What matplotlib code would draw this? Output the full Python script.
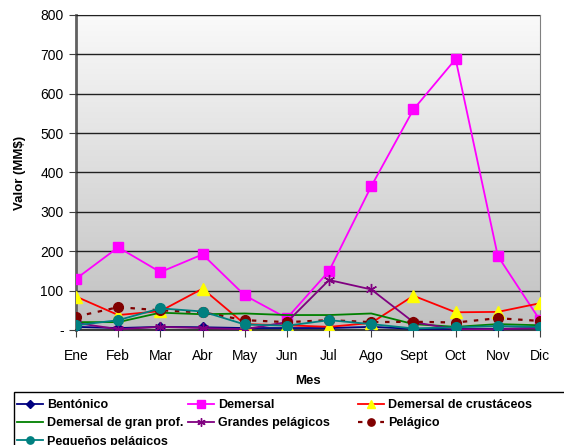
import matplotlib.pyplot as plt
import numpy as np
from matplotlib.colors import LinearSegmentedColormap
from matplotlib.patches import Rectangle

plt.rcParams['font.family'] = ['Liberation Sans', 'DejaVu Sans']

meses = ['Ene', 'Feb', 'Mar', 'Abr', 'May', 'Jun', 'Jul', 'Ago', 'Sept', 'Oct', 'Nov', 'Dic']

bentonico = [8, 5, 8, 7, 5, 5, 5, 8, 3, 3, 3, 5]
demersal = [130, 210, 147, 192, 88, 30, 150, 365, 560, 688, 188, 25]
crustaceos = [85, 38, 48, 105, 15, 12, 8, 18, 87, 45, 46, 68]
gran_prof = [20, 20, 44, 40, 42, 38, 38, 42, 15, 8, 15, 12]
grandes_pel = [18, 2, 8, 5, 2, 20, 127, 103, 20, 2, 2, 5]
pelagico = [34, 58, 50, 45, 25, 20, 25, 20, 21, 19, 30, 23]
pequenos_pel = [12, 25, 55, 47, 14, 11, 25, 15, 4, 7, 10, 8]

fig = plt.figure(figsize=(5.64, 4.45), dpi=100)
ax = fig.add_axes([0.1348, 0.2584, 0.8226, 0.708])

# fondo con degradado
cmap = LinearSegmentedColormap.from_list('fondo', ['#c0c0c0', '#fafafa'])
grad = np.linspace(0, 1, 256).reshape(-1, 1)
ax.imshow(grad, extent=[0, 1, 0, 1], transform=ax.transAxes, aspect='auto',
          cmap=cmap, origin='lower', zorder=0)

x = np.arange(len(meses))
l1, = ax.plot(x, bentonico, color='#000080', marker='D', markersize=5, lw=1.3, label='Bentónico', zorder=3)
l2, = ax.plot(x, demersal, color='#ff00ff', marker='s', markersize=7, lw=1.3, label='Demersal', zorder=3)
l3, = ax.plot(x, crustaceos, color='#ff0000', marker='^', markersize=8, markerfacecolor='#ffff00',
              markeredgecolor='#ffff00', lw=1.3, label='Demersal de crustáceos', zorder=3)
l4, = ax.plot(x, gran_prof, color='#008000', lw=1.3, label='Demersal de gran prof.', zorder=3)
l5, = ax.plot(x, grandes_pel, color='#800080', marker=(6, 2, 0), markersize=8, lw=1.3,
              label='Grandes pelágicos', zorder=3)
l6, = ax.plot(x, pelagico, color='#800000', marker='o', markersize=7, lw=1.6, linestyle=(0, (2, 3)),
              label='Pelágico', zorder=3)
l7, = ax.plot(x, pequenos_pel, color='#008080', marker='o', markersize=7, lw=1.3,
              label='Pequeños pelágicos', zorder=3)

ax.set_xlim(0, 11)
ax.set_ylim(0, 800)
ax.set_xticks(x)
ax.set_xticklabels(meses, fontsize=10)
ax.set_yticks(range(0, 801, 100))
ax.set_yticklabels(['-'] + [str(v) for v in range(100, 801, 100)], fontsize=10)
ax.tick_params(axis='x', length=5, pad=9, color='#404040')
ax.tick_params(axis='y', length=5, pad=4, color='#404040')
ax.grid(axis='y', color='#202020', lw=1, zorder=1)
ax.set_axisbelow(False)

for s in ['top', 'right']:
    ax.spines[s].set_color('#808080')
ax.spines['left'].set_color('#606060')
ax.spines['left'].set_linewidth(2)
ax.spines['bottom'].set_color('#404040')
ax.spines['bottom'].set_linewidth(1.5)

ax.set_xlabel('Mes', fontsize=9.5, fontweight='bold', labelpad=8)
ax.set_ylabel('Valor (MM$)', fontsize=9.5, fontweight='bold', labelpad=10)

# marco de la leyenda (se corta en el borde de la figura)
fig.patches.append(Rectangle((14 / 564, -0.05), 1.0, 0.05 + (445 - 392) / 445,
                             transform=fig.transFigure, fill=False, edgecolor='black', lw=1))

# leyenda en tres columnas, como en Excel
columnas = [([l1, l4, l7], 17), ([l2, l5], 188), ([l3, l6], 358)]
for handles, xpos in columnas:
    fig.legend(handles=handles, loc='upper left', bbox_to_anchor=(xpos / 564, (445 - 399) / 445),
               frameon=False, prop={'weight': 'bold', 'size': 9}, handlelength=2.1,
               handletextpad=0.3, labelspacing=0.5, borderaxespad=0, borderpad=0,
               markerscale=0.75)

fig.savefig('out.png', dpi=100)
